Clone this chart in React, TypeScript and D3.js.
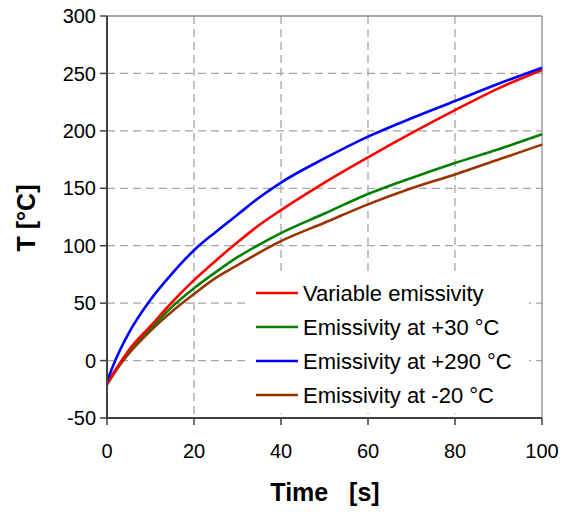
import React from "react";
import * as d3 from "d3";

const times = [0, 2, 5, 10, 15, 20, 25, 30, 35, 40, 50, 60, 70, 80, 90, 100];
const variableEmissivity = [-20, -8, 9, 30, 51, 70, 87, 103, 118, 131, 155, 177, 198, 218, 237, 253];
const emissivity30 = [-20, -8, 8, 28, 47, 63, 77, 90, 101, 111, 128, 145, 159, 172, 184, 197];
const emissivity290 = [-18, 1, 24, 53, 76, 96, 112, 127, 142, 155, 176, 195, 211, 226, 241, 255];
const emissivityMinus20 = [-21, -9, 6, 26, 43, 58, 72, 83, 94, 104, 120, 136, 150, 162, 175, 188];

const xTicks = [0, 20, 40, 60, 80, 100];
const yTicks = [-50, 0, 50, 100, 150, 200, 250, 300];

const seriesNames = [
  "Variable emissivity",
  "Emissivity at +30 °C",
  "Emissivity at +290 °C",
  "Emissivity at -20 °C",
];
const seriesColors = ["#ff0000", "#008000", "#0000ff", "#993300"];
const seriesValues = [variableEmissivity, emissivity30, emissivity290, emissivityMinus20];
const drawOrder = [3, 1, 0, 2];

export default function App() {
  const left = 107, right = 542, top = 16, bottom = 418;
  const x = d3.scaleLinear().domain([0, 100]).range([left, right]);
  const y = d3.scaleLinear().domain([-50, 300]).range([bottom, top]);
  const line = d3
    .line<number>()
    .x((_, i) => x(times[i]))
    .y((d) => y(d))
    .curve(d3.curveMonotoneX);

  const font = "Arial, 'Liberation Sans', sans-serif";

  return (
    <svg
      width={565}
      height={512}
      style={{ position: "absolute", left: 0, top: 0, background: "#fff" }}
      fontFamily={font}
    >
      {/* gridlines */}
      {yTicks
        .filter((t) => t > -50 && t < 300)
        .map((t) => (
          <line key={"gy" + t} x1={left} x2={right} y1={y(t)} y2={y(t)} stroke="#a6a6a6" strokeWidth={1.3} strokeDasharray="8,5" />
        ))}
      {xTicks
        .filter((t) => t > 0 && t < 100)
        .map((t) => (
          <line key={"gx" + t} x1={x(t)} x2={x(t)} y1={top} y2={bottom} stroke="#a6a6a6" strokeWidth={1.3} strokeDasharray="8,5" />
        ))}
      {/* border top & right */}
      <line x1={left} x2={right} y1={top} y2={top} stroke="#8c8c8c" strokeWidth={1.3} />
      <line x1={right} x2={right} y1={top} y2={bottom} stroke="#8c8c8c" strokeWidth={1.3} />

      {/* series */}
      {drawOrder.map((i) => (
        <path key={"s" + i} d={line(seriesValues[i]) || ""} fill="none" stroke={seriesColors[i]} strokeWidth={2.6} strokeLinejoin="round" />
      ))}

      {/* legend */}
      <rect x={250} y={273} width={279} height={140} fill="#fff" />
      {seriesNames.map((name, i) => {
        const yy = 293 + i * 34;
        return (
          <g key={"lg" + i}>
            <line x1={256} x2={298} y1={yy} y2={yy} stroke={seriesColors[i]} strokeWidth={2.6} />
            <text x={303} y={yy} dy="0.36em" fontSize={22} fill="#000">
              {name}
            </text>
          </g>
        );
      })}

      {/* axes */}
      <line x1={left} x2={left} y1={top} y2={bottom + 1} stroke="#404040" strokeWidth={2} />
      <line x1={left - 1} x2={right} y1={bottom} y2={bottom} stroke="#404040" strokeWidth={2} />
      {yTicks.map((t) => (
        <g key={"ty" + t}>
          <line x1={left - 7} x2={left} y1={y(t)} y2={y(t)} stroke="#404040" strokeWidth={1.5} />
          <text x={left - 11} y={y(t)} dy="0.36em" textAnchor="end" fontSize={20} fill="#000">
            {t}
          </text>
        </g>
      ))}
      {xTicks.map((t) => (
        <g key={"tx" + t}>
          <line x1={x(t)} x2={x(t)} y1={bottom} y2={bottom + 7} stroke="#404040" strokeWidth={1.5} />
          <text x={x(t)} y={458} textAnchor="middle" fontSize={20} fill="#000">
            {t}
          </text>
        </g>
      ))}

      {/* axis titles */}
      <text x={325} y={501} textAnchor="middle" fontSize={25} fontWeight="bold" fill="#000" style={{ whiteSpace: "pre" }}>
        {"Time   [s]"}
      </text>
      <text
        transform="translate(35,218) rotate(-90)"
        textAnchor="middle"
        fontSize={25}
        fontWeight="bold"
        fill="#000"
      >
        T [°C]
      </text>
    </svg>
  );
}
